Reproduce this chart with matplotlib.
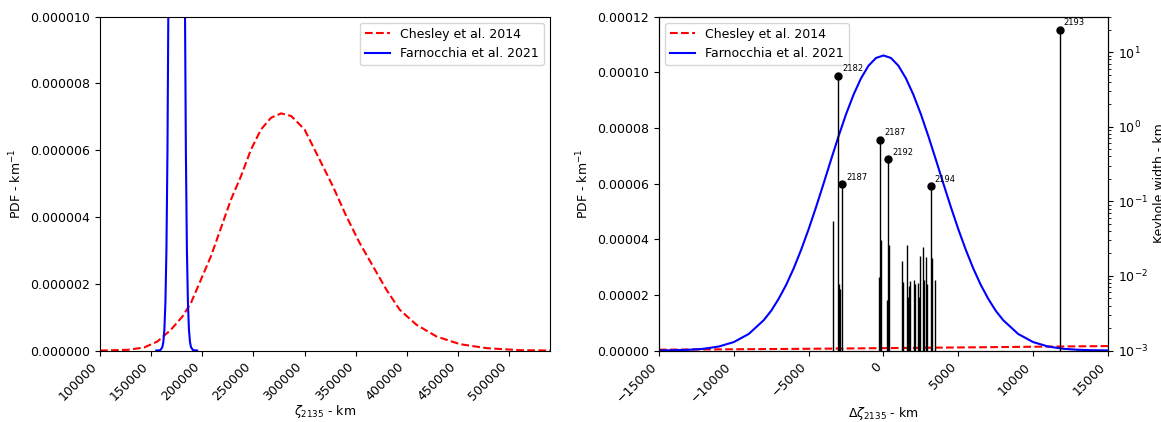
import numpy as np
import matplotlib
matplotlib.use("Agg")
import matplotlib.pyplot as plt
from matplotlib.ticker import FormatStrFormatter

# values (PDF in units of 1e-6 km^-1)

# left panel - Chesley et al. 2014, zeta_2135 in km
chesley_zeta = [100000, 126800, 143100, 156200, 169300, 180700, 188900, 198700,
                208500, 218300, 228100, 237900, 247700, 257500, 267300, 277200,
                287000, 300000, 309800, 319600, 327700, 340900, 353900, 367000,
                380100, 393100, 409500, 429100, 452000, 478100, 510800, 540000]
chesley_pdf = [0.0, 0.02, 0.09, 0.27, 0.62, 1.02, 1.42, 2.12,
               2.82, 3.67, 4.52, 5.22, 6.02, 6.62, 6.97, 7.10,
               7.02, 6.62, 6.02, 5.42, 4.92, 4.02, 3.22, 2.52,
               1.82, 1.22, 0.77, 0.42, 0.19, 0.07, 0.01, 0.0]

# left panel - Farnocchia et al. 2021
farno_zeta = [155000, 159000, 161000, 162000, 163000, 164000, 165000, 166000,
              167000, 168000, 169000, 170000, 171000, 172000, 173000, 174000,
              175000, 176000, 177000, 178000, 179000, 180000, 181000, 182000,
              183000, 184000, 185000, 186000, 187000, 188000, 189000, 191000, 195000]
farno_pdf = [0.0, 0.01, 0.1, 0.26, 0.63, 1.44, 3.03, 5.95,
             10.9, 18.6, 29.5, 43.6, 60.0, 77.0, 91.9, 102.3,
             106.0, 102.3, 91.9, 77.0, 60.0, 43.6, 29.5, 18.6,
             10.9, 5.95, 3.03, 1.44, 0.63, 0.26, 0.1, 0.01, 0.0]

# right panel - delta zeta_2135 in km
dz_farno = [-15000, -14000, -13000, -12000, -11000, -10000, -9000, -8000,
            -7500, -7000, -6500, -6000, -5500, -5000, -4500, -4000, -3500,
            -3000, -2500, -2000, -1500, -1000, -500, 0,
            500, 1000, 1500, 2000, 2500, 3000, 3500, 4000, 4500, 5000,
            5500, 6000, 6500, 7000, 7500, 8000, 9000, 10000, 11000,
            12000, 13000, 14000, 15000]
farno_dpdf = [0.04, 0.1, 0.26, 0.63, 1.44, 3.03, 5.95, 10.9,
              14.3, 18.6, 23.6, 29.5, 36.2, 43.6, 51.6, 60.0, 68.6,
              77.0, 84.9, 91.9, 97.8, 102.3, 105.1, 106.0,
              105.1, 102.3, 97.8, 91.9, 84.9, 77.0, 68.6, 60.0, 51.6, 43.6,
              36.2, 29.5, 23.6, 18.6, 14.3, 10.9, 5.95, 3.03, 1.44,
              0.63, 0.26, 0.1, 0.04]

dz_chesley = [-15000, -10000, -5000, 0, 5000, 10000, 15000]
chesley_dpdf = [0.3, 0.45, 0.62, 0.85, 1.1, 1.35, 1.6]

# keyholes: position, width (km), year label ('' = no label)
keyhole_dz = [-3356, -3047, -2998, -2913, -2778, -315, -248, -181, 268, 336,
              376, 1228, 1295, 1564, 1611, 1698, 1785, 2034, 2101, 2282,
              2369, 2416, 2638, 2705, 2839, 2906, 3154, 3221, 3443, 11765]
keyhole_w = [0.054, 4.80, 0.0079, 0.0066, 0.168, 0.0096, 0.662, 0.0306, 0.0048, 0.364,
             0.0262, 0.016, 0.0082, 0.0262, 0.0052, 0.0074, 0.0085, 0.0089, 0.0079, 0.008,
             0.0052, 0.0187, 0.0242, 0.0087, 0.0177, 0.0077, 0.158, 0.0174, 0.0087, 19.8]
keyhole_year = ['', '2182', '', '', '2187', '', '2187', '', '', '2192',
                '', '', '', '', '', '', '', '', '', '',
                '', '', '', '', '', '', '2194', '', '', '2193']

plt.rcParams['font.size'] = 9

fig = plt.figure(figsize=(11.61, 4.22), dpi=100)

# ---- left panel
ax1 = fig.add_axes([0.0861, 0.1694, 0.3876, 0.7915])
ax1.plot(chesley_zeta, np.array(chesley_pdf) * 1e-6, 'r--', lw=1.5, label='Chesley et al. 2014')
ax1.plot(farno_zeta, np.array(farno_pdf) * 1e-6, 'b-', lw=1.5, label='Farnocchia et al. 2021')
ax1.set_xlim(100000, 540000)
ax1.set_ylim(0, 1e-5)
ax1.set_xticks(np.arange(100000, 500001, 50000))
ax1.yaxis.set_major_formatter(FormatStrFormatter('%.6f'))
plt.setp(ax1.get_xticklabels(), rotation=45, ha='right')
ax1.set_xlabel(r'$\zeta_{2135}$ - km', labelpad=0)
ax1.set_ylabel(r'PDF - km$^{-1}$')
ax1.legend(loc='upper right')

# ---- right panel
ax2 = fig.add_axes([0.5676, 0.1694, 0.3867, 0.7915])
ax2.plot(dz_chesley, np.array(chesley_dpdf) * 1e-6, 'r--', lw=1.5, label='Chesley et al. 2014')
ax2.plot(dz_farno, np.array(farno_dpdf) * 1e-6, 'b-', lw=1.5, label='Farnocchia et al. 2021')
ax2.set_xlim(-15000, 15000)
ax2.set_ylim(0, 0.00012)
ax2.yaxis.set_major_formatter(FormatStrFormatter('%.5f'))
plt.setp(ax2.get_xticklabels(), rotation=45, ha='right')
ax2.set_xlabel(r'$\Delta\zeta_{2135}$ - km', labelpad=0)
ax2.set_ylabel(r'PDF - km$^{-1}$')
ax2.legend(loc='upper left')

# keyhole widths on a log twin axis
ax3 = ax2.twinx()
ax3.set_yscale('log')
ax3.set_ylim(1e-3, 30)
ax3.vlines(keyhole_dz, 1e-3, keyhole_w, colors='k', lw=1.0)
for dz, w, yr in zip(keyhole_dz, keyhole_w, keyhole_year):
    if yr:
        ax3.plot(dz, w, 'o', color='k', ms=5)
        ax3.annotate(yr, (dz, w), xytext=(3, 2), textcoords='offset points',
                     fontsize=6, ha='left', va='bottom')
ax3.set_ylabel('Keyhole width - km')

fig.savefig('out.png', dpi=100)
